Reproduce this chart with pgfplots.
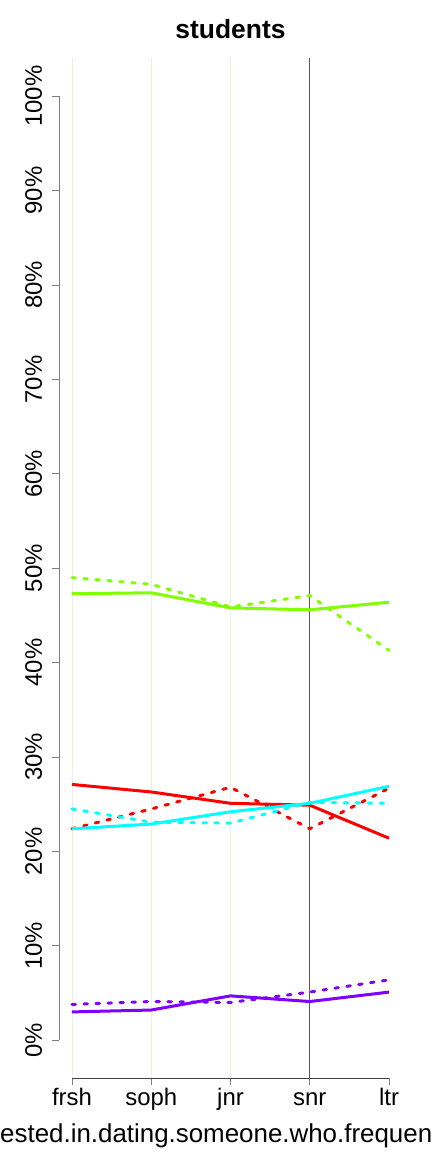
\documentclass[border=0pt]{standalone}
\usepackage{fontspec}
\setmainfont{Liberation Sans}
\usepackage{pgfplots}
\pgfplotsset{compat=1.18}
\definecolor{cred}{HTML}{FF0000}
\definecolor{cgreen}{HTML}{80FF00}
\definecolor{ccyan}{HTML}{00FFFF}
\definecolor{cpurple}{HTML}{8000FF}
\definecolor{gridbeige}{HTML}{F0EEE2}
\begin{document}
\begin{tikzpicture}
\begin{axis}[
  scale only axis,
  width=342.4bp, height=1019.5bp,
  at={(0,0)}, anchor=south west,
  xmin=0.84, xmax=5.16, ymin=-4, ymax=104,
  axis lines=left,
  axis line style={-, draw=none},
  tick align=outside,
  major tick length=7bp,
  tick style={gray, line width=0.8bp},
  xtick={1,2,3,4,5},
  xticklabels={frsh,soph,jnr,snr,ltr},
  ytick={0,10,...,100},
  yticklabels={0\%,10\%,20\%,30\%,40\%,50\%,60\%,70\%,80\%,90\%,100\%},
  xticklabel style={font=\fontsize{24}{28}\selectfont, anchor=north, inner sep=0pt, text height=17.5bp, text depth=0pt, yshift=-3bp},
  yticklabel style={font=\fontsize{24}{28}\selectfont, rotate=90, anchor=south, inner sep=0pt, yshift=10bp},
  /pgf/number format/assume math mode=true,
  title={\bfseries students},
  title style={font=\fontsize{26.5}{30}\selectfont, anchor=base, at={(0.5,1)}, yshift=14bp},
  clip=false,
]
\draw[gridbeige, line width=0.8bp] (axis cs:1,-4) -- (axis cs:1,104);
\draw[gridbeige, line width=0.8bp] (axis cs:2,-4) -- (axis cs:2,104);
\draw[gridbeige, line width=0.8bp] (axis cs:3,-4) -- (axis cs:3,104);
\draw[black!65, line width=0.8bp] (axis cs:4,-4) -- (axis cs:4,104);
\draw[gray, line width=0.8bp] (axis cs:0.84,0) -- (axis cs:0.84,100);
\draw[black!75, line width=0.8bp] (axis cs:1,-4) -- (axis cs:5,-4);
% green
\addplot[cgreen, line width=3bp, line join=round] coordinates {(1,47.3) (2,47.4) (3,45.8) (4,45.6) (5,46.4)};
\addplot[cgreen, line width=3bp, line cap=round, dash pattern=on 3.5bp off 8.5bp] coordinates {(1,49.0) (2,48.3) (3,45.9) (4,47.1) (5,41.3)};
% red
\addplot[cred, line width=3bp, line join=round] coordinates {(1,27.1) (2,26.3) (3,25.1) (4,24.9) (5,21.4)};
\addplot[cred, line width=3bp, line cap=round, dash pattern=on 3.5bp off 8.5bp] coordinates {(1,22.4) (2,24.5) (3,26.8) (4,22.4) (5,26.7)};
% cyan
\addplot[ccyan, line width=3bp, line join=round] coordinates {(1,22.4) (2,22.9) (3,24.2) (4,25.1) (5,26.9)};
\addplot[ccyan, line width=3bp, line cap=round, dash pattern=on 3.5bp off 8.5bp] coordinates {(1,24.5) (2,23.1) (3,23.0) (4,25.2) (5,25.1)};
% purple
\addplot[cpurple, line width=3bp, line join=round] coordinates {(1,3.0) (2,3.2) (3,4.7) (4,4.1) (5,5.1)};
\addplot[cpurple, line width=3bp, line cap=round, dash pattern=on 3.5bp off 8.5bp] coordinates {(1,3.8) (2,4.1) (3,4.0) (4,5.1) (5,6.4)};
\end{axis}
\node[anchor=base west, inner sep=0pt, font=\fontsize{26}{30}\selectfont] at (-59.3bp,-64bp) {ested.in.dating.someone.who.frequen};
\pgfresetboundingbox
\useasboundingbox (-59.3bp,-74bp) rectangle (372.7bp,1078bp);
\end{tikzpicture}
\end{document}
